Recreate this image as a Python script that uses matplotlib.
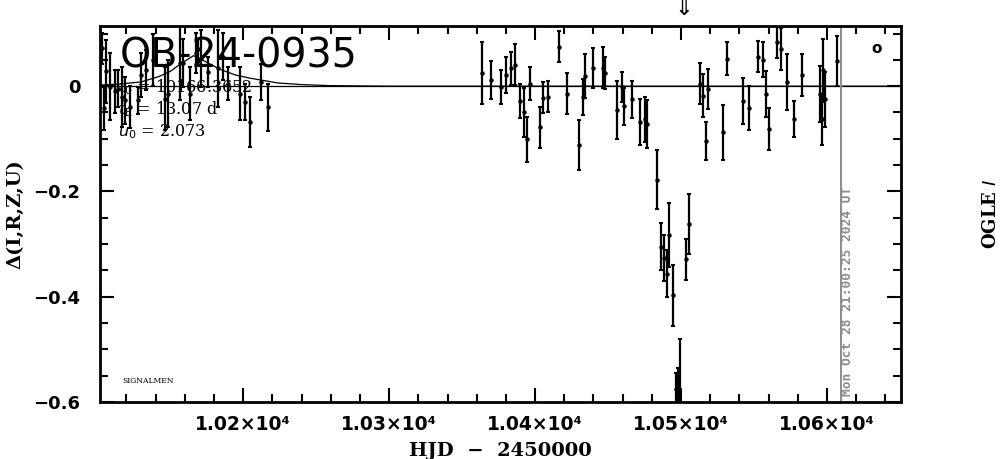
import matplotlib
matplotlib.use("Agg")
import matplotlib.pyplot as plt
from matplotlib.ticker import MultipleLocator, FixedLocator

# ---- data ----
hjd = [10103.4, 10104.5, 10105.8, 10108.9, 10112.3, 10114.4, 10117.1, 10119.2, 10122.6, 10128.1,
       10130.1, 10133.6, 10138.4, 10146.6, 10148.6, 10156.8, 10158.9, 10163.7, 10167.8, 10169.2,
       10171.2, 10176.0, 10182.9, 10186.3, 10189.7, 10197.9, 10201.4, 10204.8, 10212.3, 10217.1,
       10363.5, 10369.7, 10376.5, 10380.1, 10383.4, 10386.3, 10389.7, 10392.5, 10394.7, 10396.6,
       10403.4, 10405.3, 10409.1, 10416.6, 10421.7, 10430.3, 10432.7, 10434.2, 10439.9, 10446.4,
       10447.9, 10456.4, 10459.4, 10461.0, 10466.2, 10471.9, 10475.3, 10476.9, 10483.8, 10486.1,
       10488.6, 10490.2, 10491.8, 10494.3, 10496.6, 10497.7, 10499.3, 10503.4, 10505.7, 10513.0,
       10514.9, 10517.1, 10518.7, 10529.0, 10531.7, 10542.3, 10546.8, 10553.0, 10556.0, 10558.0,
       10560.5, 10566.0, 10568.3, 10572.8, 10577.6, 10582.7, 10595.2, 10596.4, 10597.5, 10598.6,
       10606.6]
dmag = [0.072, -0.042, 0.028, -0.001, -0.010, -0.005, -0.021, -0.027, -0.040, -0.027,
        0.021, 0.030, 0.050, -0.024, -0.014, 0.044, 0.044, -0.014, 0.063, 0.070,
        0.053, 0.027, 0.034, 0.056, 0.005, -0.014, -0.030, -0.068, 0.008, -0.040,
        0.025, 0.012, -0.001, 0.021, 0.034, 0.041, -0.028, -0.050, -0.101, 0.005,
        -0.078, -0.022, -0.020, 0.075, -0.014, -0.112, -0.021, 0.019, 0.034, 0.035,
        0.025, -0.045, -0.002, -0.038, -0.025, -0.068, -0.063, -0.072, -0.178, -0.305,
        -0.326, -0.356, -0.283, -0.397, -0.575, -0.570, -0.620, -0.329, -0.261, 0.005,
        -0.018, -0.105, -0.006, -0.088, 0.052, -0.028, -0.042, 0.056, 0.050, -0.015,
        -0.082, 0.084, 0.070, 0.008, -0.062, 0.021, -0.015, -0.063, 0.030, -0.025,
        0.048]
derr = [0.029, 0.041, 0.060, 0.064, 0.041, 0.035, 0.057, 0.044, 0.040, 0.025,
        0.042, 0.038, 0.050, 0.060, 0.064, 0.070, 0.045, 0.050, 0.038, 0.020,
        0.054, 0.029, 0.073, 0.045, 0.032, 0.050, 0.035, 0.048, 0.035, 0.045,
        0.058, 0.036, 0.032, 0.034, 0.031, 0.039, 0.033, 0.047, 0.043, 0.032,
        0.039, 0.029, 0.030, 0.029, 0.039, 0.048, 0.034, 0.042, 0.038, 0.039,
        0.030, 0.055, 0.028, 0.035, 0.035, 0.044, 0.043, 0.046, 0.056, 0.045,
        0.044, 0.044, 0.061, 0.058, 0.030, 0.035, 0.140, 0.039, 0.057, 0.039,
        0.041, 0.036, 0.038, 0.053, 0.031, 0.043, 0.042, 0.030, 0.033, 0.044,
        0.040, 0.030, 0.040, 0.053, 0.034, 0.040, 0.053, 0.048, 0.060, 0.052,
        0.048]

# model curve
model_t = [10101.9, 10115, 10130, 10142, 10150, 10158, 10166, 10174, 10184, 10195,
           10205, 10224, 10240, 10260, 10300, 10650.7]
model_y = [0.002, 0.004, 0.008, 0.018, 0.028, 0.044, 0.058, 0.047, 0.032, 0.021,
           0.015, 0.006, 0.003, 0.001, 0.0, 0.0]

xticks = [10200, 10300, 10400, 10500, 10600]
xtick_labels = ['1.02×10⁴', '1.03×10⁴', '1.04×10⁴', '1.05×10⁴', '1.06×10⁴']
yticks = [0.0, -0.2, -0.4, -0.6]
ytick_labels = ['0', '−0.2', '−0.4', '−0.6']

event_name = 'OB-24-0935'
param_lines = [r'$t_0$ = 10166.3652', r'$t_{\rm E}$ = 13.07 d', r'$u_0$ = 2.073']
now_line_x = 10609.6
arrow_x = 10502.0
timestamp = 'Mon Oct 28 21:00:25 2024 UT'

# ---- figure ----
fig = plt.figure(figsize=(10.04, 4.59), dpi=100)
ax = fig.add_axes([100/1004, 1-402/459, 801/1004, 376/459])
ax.set_xlim(10101.9, 10650.7)
ax.set_ylim(-0.6, 0.1143)

ax.axhline(0, color='black', lw=0.9, zorder=1)
ax.plot(model_t, model_y, color='black', lw=0.9, zorder=1)
ax.errorbar(hjd, dmag, yerr=derr, fmt='o', ms=2.2, color='black', ecolor='black',
            elinewidth=1.6, capsize=1.6, capthick=1.5, zorder=3)
ax.axvline(now_line_x, color='#8c8c8c', lw=1.4, zorder=2)

for s in ax.spines.values():
    s.set_linewidth(2.0)

ax.xaxis.set_major_locator(FixedLocator(xticks))
ax.xaxis.set_minor_locator(MultipleLocator(20))
ax.yaxis.set_major_locator(FixedLocator(yticks))
ax.yaxis.set_minor_locator(MultipleLocator(0.05))
ax.tick_params(which='both', direction='in', top=True, right=True, width=1.5, color='black')
ax.tick_params(which='major', length=10)
ax.tick_params(which='minor', length=5.5)
ax.tick_params(axis='x', which='major', pad=9)
ax.tick_params(axis='y', which='major', pad=14)
ax.set_xticklabels(xtick_labels, fontsize=13.5, fontweight='bold', family='DejaVu Sans')
ax.set_yticklabels(ytick_labels, fontsize=13, fontweight='bold', family='DejaVu Sans')

ax.set_xlabel('HJD  −  2450000', fontsize=14, fontweight='bold', family='DejaVu Serif', labelpad=6)
fig.text(15/1004, 1-214/459, 'Δ(I,R,Z,U)', rotation=90, ha='center', va='center',
         fontsize=14, fontweight='bold', family='DejaVu Serif')
fig.text(991/1004, 1-214/459, r'OGLE $\mathbf{\mathit{I}}$', rotation=90, ha='center', va='center',
         fontsize=13, fontweight='bold', family='DejaVu Serif')

# texts inside axes
ax.text(20/801, 1-(68-26)/376, event_name, transform=ax.transAxes, fontsize=28.5,
        family='DejaVu Sans', ha='left', va='baseline', zorder=4)
for i, line in enumerate(param_lines):
    ax.text(18/801, 1-(92 + i*22 - 26)/376, line, transform=ax.transAxes, fontsize=11.5,
            family='DejaVu Serif', ha='left', va='baseline', zorder=4)
ax.text(22/801, 1-(383-26)/376, 'SIGNALMEN', transform=ax.transAxes, fontsize=5.5,
        family='DejaVu Serif', ha='left', va='baseline')
ax.text(now_line_x, -0.588, timestamp, rotation=90, ha='left', va='bottom',
        fontsize=9.3, fontweight='bold', family='DejaVu Sans Mono', color='#8c8c8c')
ax.text(0.9697, 0.9407, 'o', transform=ax.transAxes, ha='center', va='center',
        fontsize=11, fontweight='bold', family='DejaVu Sans')
ax.annotate('⇓', xy=(arrow_x, 1.0), xycoords=('data', 'axes fraction'),
            xytext=(0, 5), textcoords='offset points', ha='center', va='bottom',
            fontsize=16, family='DejaVu Sans', annotation_clip=False)

fig.savefig('out.png', dpi=100)
